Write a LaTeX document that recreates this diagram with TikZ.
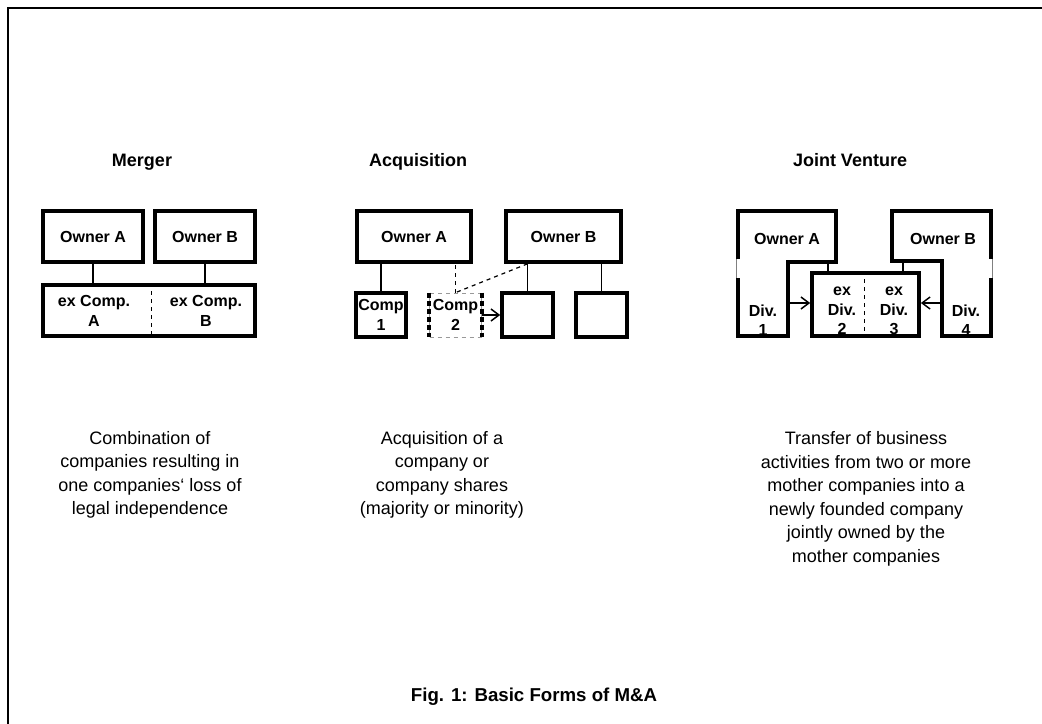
\documentclass[tikz,border=0pt]{standalone}
\usepackage{fontspec}
\setmainfont{Liberation Sans}
\usetikzlibrary{arrows.meta}

\tikzset{
  >={Straight Barb[length=6pt,width=9pt]},
  boxfont/.style={font=\bfseries\fontsize{12}{14.5}\selectfont, align=center},
  bigbox/.style={draw, line width=3pt, inner sep=0pt, boxfont},
  owner/.style={bigbox, minimum width=75pt, minimum height=38pt},
  compbox/.style={bigbox, minimum width=38pt, minimum height=33pt},
  ghostbox/.style={draw=gray!80, dashed, line width=0.6pt, inner sep=0pt,
    boxfont, minimum width=39pt, minimum height=33pt},
  label/.style={boxfont, inner sep=0pt},
  link/.style={line width=1.1pt},
  divider/.style={line width=0.6pt, dashed},
  heading/.style={font=\bfseries\fontsize{13.5}{16}\selectfont, anchor=base},
  remark/.style={font=\fontsize{13.5}{17.6}\selectfont, align=center},
}

\begin{document}
\begin{tikzpicture}[x=0.75pt, y=-0.75pt]
  \useasboundingbox (0,0) rectangle (1042,724);
  \draw[line width=1.5pt] (8,724) -- (8,8) -- (1042,8);

  % merger
  \node[heading] (hMerger) at (142,166) {Merger};
  \node[owner] (mOwnA) at (93,236.5) {Owner A};
  \node[owner] (mOwnB) at (205,236.5) {Owner B};
  \node[bigbox, minimum width=159pt, minimum height=38pt] (mComp) at (149,310.5) {};
  \node[label] (mCompA) at (94,311) {ex Comp.\\A};
  \node[label] (mCompB) at (206,311) {ex Comp.\\B};
  \draw[divider] (mComp.north -| 151,0) -- (mComp.south -| 151,0);
  \draw[link] (mOwnA.south) -- (mOwnA.south |- mComp.north);
  \draw[link] (mOwnB.south) -- (mOwnB.south |- mComp.north);
  \node[remark] (mText) at (150,475) {Combination of\\companies resulting in\\one companies‘ loss of\\legal independence};

  % acquisition
  \node[heading] (hAcq) at (418,166) {Acquisition};
  \node[owner, minimum width=86pt] (aOwnA) at (414,236.5) {Owner A};
  \node[owner, minimum width=86pt] (aOwnB) at (563.5,236.5) {Owner B};
  \node[compbox] (aComp1) at (381,315) {Comp\\1};
  \node[ghostbox] (aComp2) at (455.5,315) {Comp\\2};
  \draw[line width=2.6pt, dash pattern=on 4pt off 2pt] (aComp2.north west) -- (aComp2.south west);
  \draw[line width=2.6pt, dash pattern=on 4pt off 2pt] (aComp2.north east) -- (aComp2.south east);
  \node[compbox] (aComp3) at (527.5,315) {};
  \node[compbox] (aComp4) at (601.5,315) {};
  \draw[link] (aComp1.north) -- (aComp1.north |- aOwnA.south);
  \draw[divider] (aComp2.north) -- (aComp2.north |- aOwnA.south);
  \draw[divider, line width=0.9pt] (aComp3.north |- aOwnB.south) -- (aComp2.north);
  \draw[link] (aComp3.north) -- (aComp3.north |- aOwnB.south);
  \draw[link] (aComp4.north) -- (aComp4.north |- aOwnB.south);
  \draw[link, ->] (aComp2.east) -- (aComp3.west);
  \node[remark] (aText) at (442,475) {Acquisition of a\\company or\\company shares\\(majority or minority)};

  % joint venture
  \node[heading] (hJV) at (850,166) {Joint Venture};
  \draw[line width=3pt, line join=miter] (738,211) -- (836,211) -- (836,262) -- (788,262)
    -- (788,336) -- (738,336) -- cycle;
  \draw[line width=3pt, line join=miter] (892,211) -- (991,211) -- (991,336) -- (942,336)
    -- (942,261) -- (892,261) -- cycle;
  \fill[white] (735,259) rectangle (741,278);
  \draw[line width=0.4pt, gray] (736.5,259) -- (736.5,278);
  \fill[white] (988,259) rectangle (994,278);
  \draw[line width=0.4pt, gray] (992.5,259) -- (992.5,278);
  \node[label] (jOwnA) at (787,239) {Owner A};
  \node[label] (jOwnB) at (943,239) {Owner B};
  \node[label] (jDiv1) at (763,320) {Div.\\1};
  \node[label] (jDiv4) at (966,320) {Div.\\4};
  \node[bigbox, minimum width=80pt, minimum height=47pt] (jNew) at (865.5,304.5) {};
  \node[label] (jDiv2) at (842,311) {ex\\Div.\\2};
  \node[label] (jDiv3) at (894,311) {ex\\Div.\\3};
  \draw[divider] (jNew.north -| 864,0) -- (jNew.south -| 864,0);
  \coordinate (jFootA) at (828,262);
  \coordinate (jFootB) at (903,261);
  \draw[link] (jFootA) -- (jFootA |- jNew.north);
  \draw[link] (jFootB) -- (jFootB |- jNew.north);
  \coordinate (jOut1) at (788,303);
  \coordinate (jOut4) at (942,303);
  \draw[link, ->] (jOut1) -- (jOut1 -| jNew.west);
  \draw[link, ->] (jOut4) -- (jOut4 -| jNew.east);
  \node[remark] (jText) at (866,499) {Transfer of business\\activities from two or more\\mother companies into a\\newly founded company\\jointly owned by the\\mother companies};

  \node[font=\bfseries\fontsize{14}{16}\selectfont] (caption) at (534,697) {Fig. 1: Basic Forms of M\&A};
\end{tikzpicture}
\end{document}
